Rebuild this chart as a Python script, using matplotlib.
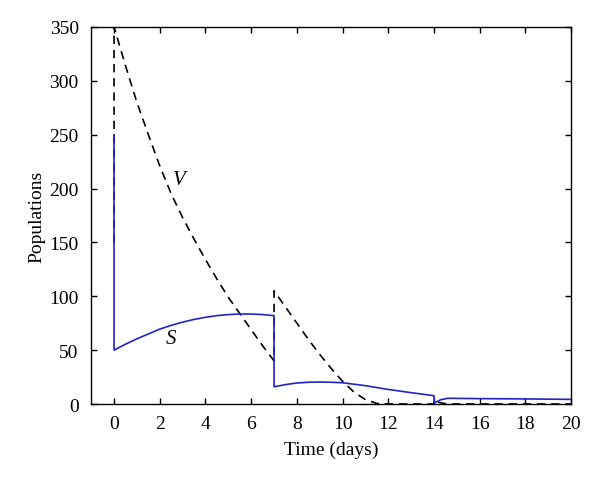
import matplotlib
matplotlib.use('Agg')
import matplotlib.pyplot as plt

# virus population V (dashed) - impulses at t=0, 7, 14
t_v = [0, 0, 0.5, 1, 1.5, 2, 2.5, 3, 3.5, 4, 4.5, 5, 5.5, 6, 6.5, 7,
       7, 7.5, 8, 8.5, 9, 9.5, 10, 10.5, 11, 11.5, 12, 14,
       14, 14.3, 14.6, 20]
v_vals = [150, 350, 314, 280, 250, 221, 195, 173, 153, 134, 116, 99, 84, 69, 54, 40,
          105, 90, 75, 60, 46, 33, 21, 11, 4, 0.5, 0, 0,
          3, 1, 0, 0]

# susceptible population S (solid blue)
t_s = [0, 0, 0.5, 1, 1.5, 2, 2.5, 3, 3.5, 4, 4.5, 5, 5.5, 6, 6.5, 7,
       7, 7.5, 8, 8.5, 9, 9.5, 10, 11, 12, 13, 14,
       14, 14.3, 14.6, 16, 18, 20]
s_vals = [250, 50, 55.5, 60.5, 65, 69.5, 73, 76, 78.5, 80.5, 82, 83, 83.5, 83.5, 83, 82,
          16, 18, 19.5, 20.2, 20.4, 20.2, 19.7, 17, 13.5, 10.5, 7.7,
          1, 4, 5.3, 5.0, 4.7, 4.3]

x_ticks = list(range(0, 21, 2))
y_ticks = list(range(0, 351, 50))

plt.rcParams['font.family'] = ['Liberation Serif', 'DejaVu Serif']
plt.rcParams['font.size'] = 14

fig = plt.figure(figsize=(6, 4.81), dpi=100)
ax = fig.add_axes([0.152, 0.158, 0.8, 0.784])

ax.plot(t_v, v_vals, color='black', linestyle=(0, (5, 3.5)), linewidth=1.2)
ax.plot(t_s, s_vals, color='#2323c8', linewidth=1.2)

ax.text(2.85, 208, 'V', fontstyle='italic', fontsize=15, ha='center', va='center')
ax.text(2.5, 61, 'S', fontstyle='italic', fontsize=15, ha='center', va='center')

ax.set_xlim(-1, 20)
ax.set_ylim(0, 350)
ax.set_xticks(x_ticks)
ax.set_yticks(y_ticks)
ax.tick_params(direction='in', top=True, right=True, length=4, width=1)
ax.tick_params(axis='x', pad=8)
ax.tick_params(axis='y', pad=9)
for sp in ax.spines.values():
    sp.set_linewidth(1)

ax.set_xlabel('Time (days)', labelpad=6)
ax.set_ylabel('Populations', labelpad=3)

plt.savefig('out.png', dpi=100)
